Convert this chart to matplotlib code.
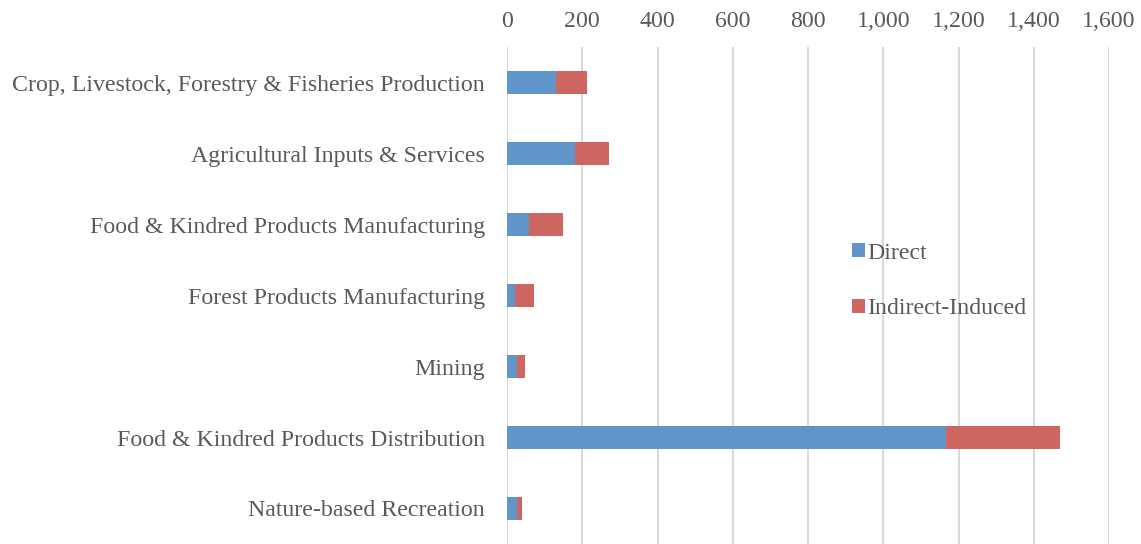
import numpy as np
import matplotlib.pyplot as plt

categories = ["Crop, Livestock, Forestry & Fisheries Production",
              "Agricultural Inputs & Services",
              "Food & Kindred Products Manufacturing",
              "Forest Products Manufacturing",
              "Mining",
              "Food & Kindred Products Distribution",
              "Nature-based Recreation"]
direct = [129, 180, 59, 22, 27, 1166, 27]
indirect = [83, 92, 91, 51, 20, 303, 13]

plt.rcParams['font.family'] = ['Liberation Serif', 'DejaVu Serif']
text_color = "#595959"

fig = plt.figure(figsize=(11.41, 5.44), dpi=100)
ax = fig.add_axes([507 / 1141, 0, (1109 - 507) / 1141, (544 - 47) / 544])

y = np.arange(len(categories))
bar_h = 0.315
ax.barh(y, direct, bar_h, color="#5f95c9", label="Direct", zorder=3)
ax.barh(y, indirect, bar_h, left=direct, color="#cd6660", label="Indirect-Induced", zorder=3)

ax.set_ylim(len(categories) - 0.5, -0.5)
ax.set_xlim(0, 1600)
ax.set_xticks(np.arange(0, 1601, 200))
ax.set_xticklabels([f"{v:,}" for v in range(0, 1601, 200)])
ax.xaxis.tick_top()
ax.set_yticks(y)
ax.set_yticklabels(categories)
ax.tick_params(axis="both", length=0, labelsize=17.2, colors=text_color)
ax.tick_params(axis="x", pad=11)
ax.tick_params(axis="y", pad=16)
ax.grid(axis="x", color="#d9d9d9", linewidth=1.5, zorder=0)
for s in ax.spines.values():
    s.set_visible(False)

leg = ax.legend(loc="upper left", bbox_to_anchor=((842 - 507) / 602, (544 - 233) / 497),
                frameon=False, fontsize=17.2, handlelength=0.55, handleheight=0.55,
                handletextpad=0.1, labelspacing=1.45, borderaxespad=0)
for t in leg.get_texts():
    t.set_color(text_color)

fig.savefig("out.png", dpi=100)
